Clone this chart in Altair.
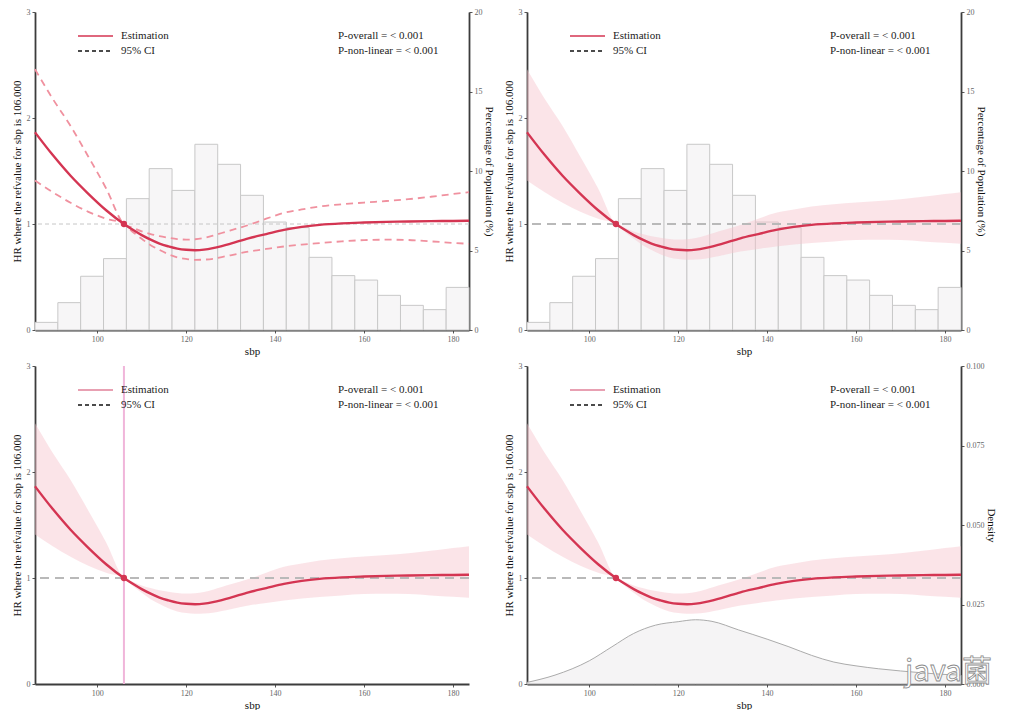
import altair as alt
import pandas as pd

# ---------------- data ----------------
sbp_grid = [86, 90, 94, 98, 102, 106, 108, 110, 112, 114, 116, 118, 120, 122, 124,
            126, 128, 130, 134, 138, 142, 146, 150, 155, 160, 165, 170, 175, 180, 183.6]
hr_estimate = [1.865, 1.65, 1.455, 1.285, 1.13, 1.0, 0.945, 0.895, 0.852, 0.815, 0.789,
               0.768, 0.757, 0.753, 0.758, 0.772, 0.792, 0.815, 0.865, 0.905, 0.945,
               0.973, 0.992, 1.006, 1.014, 1.02, 1.024, 1.027, 1.029, 1.031]
hr_upper = [2.46, 2.18, 1.925, 1.635, 1.335, 1.0, 0.965, 0.93, 0.905, 0.885, 0.87,
            0.858, 0.853, 0.856, 0.868, 0.89, 0.915, 0.94, 0.99, 1.05, 1.105,
            1.137, 1.165, 1.186, 1.202, 1.217, 1.234, 1.257, 1.283, 1.30]
hr_lower = [1.41, 1.30, 1.20, 1.115, 1.05, 1.0, 0.925, 0.86, 0.80, 0.755, 0.715,
            0.685, 0.67, 0.662, 0.664, 0.672, 0.688, 0.705, 0.74, 0.765, 0.788,
            0.806, 0.82, 0.836, 0.848, 0.852, 0.849, 0.836, 0.822, 0.813]

hist_bin_start = [86.0, 91.14, 96.27, 101.41, 106.55, 111.68, 116.82, 121.96, 127.09, 132.23,
                  137.37, 142.51, 147.64, 152.78, 157.92, 163.05, 168.19, 173.33, 178.46]
hist_bin_end = [91.14, 96.27, 101.41, 106.55, 111.68, 116.82, 121.96, 127.09, 132.23, 137.37,
                142.51, 147.64, 152.78, 157.92, 163.05, 168.19, 173.33, 178.46, 183.6]
hist_percent = [0.48, 1.72, 3.38, 4.49, 8.26, 10.15, 8.78, 11.68, 10.42, 8.47,
                6.79, 6.44, 4.57, 3.42, 3.14, 2.18, 1.55, 1.28, 2.68]

density_sbp = [86, 92.3, 100, 105.1, 110, 114.9, 120, 123.9, 127.6, 133.6,
               140, 144.9, 150, 155, 160, 165, 170, 175, 180, 183.6]
density_value = [0.0005, 0.0028, 0.0073, 0.0117, 0.0159, 0.0185, 0.0196, 0.0202, 0.0197, 0.017,
                 0.0141, 0.0117, 0.009, 0.0069, 0.0057, 0.0048, 0.0041, 0.0035, 0.003, 0.0028]

ref_sbp = [106.0]
ref_hr = [1.0]

legend_labels = ["Estimation", "95% CI"]
p_labels = ["P-overall = < 0.001", "P-non-linear = < 0.001"]
x_ticks = [100, 120, 140, 160, 180]
hr_ticks = [0, 1, 2, 3]
pct_ticks = [0, 5, 10, 15, 20]
dens_ticks = [0, 0.025, 0.05, 0.075, 0.1]
watermark = ["java菌"]

Y_TITLE = "HR where the refvalue for sbp is 106.000"
X_TITLE = "sbp"
PCT_TITLE = "Percentage of Population (%)"
DENS_TITLE = "Density"

# ---------------- styling ----------------
FONT = "Liberation Serif"
W, H = 434, 318
X_DOMAIN = [86, 183.6]
EST = "#d43552"
CI_LINE = "#f0919f"
BAND = "#f7c3cd"
REF_GRAY = "#b9b9b9"

curve_df = pd.DataFrame({"sbp": sbp_grid, "hr": hr_estimate, "lo": hr_lower, "hi": hr_upper})
hist_df = pd.DataFrame({"b0": hist_bin_start, "b1": hist_bin_end, "pct": hist_percent})
dens_df = pd.DataFrame({"sbp": density_sbp, "dens": density_value})
ref_df = pd.DataFrame({"sbp": ref_sbp, "hr": ref_hr})


def x_enc(field):
    return alt.X(f"{field}:Q",
                 scale=alt.Scale(domain=X_DOMAIN, nice=False, zero=False),
                 axis=alt.Axis(values=x_ticks, title=X_TITLE, orient="bottom"))


def y_hr(field):
    return alt.Y(f"{field}:Q",
                 scale=alt.Scale(domain=[0, 3], nice=False, zero=True),
                 axis=alt.Axis(values=hr_ticks, title=Y_TITLE, orient="left"))


def legend_and_text(est_color, est_width):
    one = pd.DataFrame({"k": [0]})
    layers = [
        alt.Chart(one).mark_rule(color=est_color, strokeWidth=est_width).encode(
            x=alt.value(43), x2=alt.value(78), y=alt.value(24)),
        alt.Chart(one).mark_rule(color="#111", strokeWidth=1.3, strokeDash=[4, 3]).encode(
            x=alt.value(43), x2=alt.value(78), y=alt.value(39)),
    ]
    for lab, yy in zip(legend_labels, [24, 39]):
        layers.append(alt.Chart(pd.DataFrame({"t": [lab]})).mark_text(
            align="left", baseline="middle", font=FONT, fontSize=11, color="#222").encode(
            x=alt.value(86), y=alt.value(yy), text="t:N"))
    for lab, yy in zip(p_labels, [24, 39]):
        layers.append(alt.Chart(pd.DataFrame({"t": [lab]})).mark_text(
            align="left", baseline="middle", font=FONT, fontSize=11, color="#222").encode(
            x=alt.value(303), y=alt.value(yy), text="t:N"))
    return layers


def hr_layer(style):
    base = alt.Chart(curve_df)
    layers = []
    if style in ("band", "vline", "density"):
        layers.append(base.mark_area(interpolate="monotone", color=BAND, opacity=0.45).encode(
            x=x_enc("sbp"), y=y_hr("lo"), y2="hi"))
    if style == "dashed":
        layers.append(alt.Chart(ref_df).mark_rule(color="#c6c6c6", strokeWidth=1,
                                                  strokeDash=[4, 3]).encode(y=y_hr("hr")))
        for f in ("hi", "lo"):
            layers.append(base.mark_line(interpolate="monotone", color=CI_LINE, strokeWidth=1.8,
                                         strokeDash=[7, 5]).encode(x=x_enc("sbp"), y=y_hr(f)))
    else:
        layers.append(alt.Chart(ref_df).mark_rule(color=REF_GRAY, strokeWidth=2.2,
                                                  strokeDash=[9, 6]).encode(y=y_hr("hr")))
    if style == "vline":
        layers.append(alt.Chart(ref_df).mark_rule(color="#f0b6da", strokeWidth=2).encode(
            x=x_enc("sbp")))
    layers.append(base.mark_line(interpolate="monotone", color=EST, strokeWidth=2.4).encode(
        x=x_enc("sbp"), y=y_hr("hr")))
    layers.append(alt.Chart(ref_df).mark_circle(size=40, color=EST, opacity=1).encode(
        x=x_enc("sbp"), y=y_hr("hr")))
    if style in ("vline", "density"):
        layers += legend_and_text("#e8a0b2", 2)
    else:
        layers += legend_and_text(EST, 1.3)
    return alt.layer(*layers)


def hist_layer():
    return alt.Chart(hist_df).mark_rect(fill="#f7f6f7", stroke="#c8c8c8", strokeWidth=1).encode(
        x=x_enc("b0"), x2="b1",
        y=alt.Y("pct:Q", scale=alt.Scale(domain=[0, 20], nice=False),
                axis=alt.Axis(values=pct_ticks, title=PCT_TITLE, orient="right")),
        y2=alt.datum(0))


def density_layer():
    return alt.Chart(dens_df).mark_area(interpolate="monotone", fill="#f5f4f5", stroke="#ababab",
                                        strokeWidth=1).encode(
        x=x_enc("sbp"),
        y=alt.Y("dens:Q", scale=alt.Scale(domain=[0, 0.1], nice=False),
                axis=alt.Axis(values=dens_ticks, format=".3f", title=DENS_TITLE, orient="right")))


p1 = alt.layer(hist_layer(), hr_layer("dashed")).resolve_scale(y="independent").properties(width=W, height=H)
p2 = alt.layer(hist_layer(), hr_layer("band")).resolve_scale(y="independent").properties(width=W, height=H)
p3 = hr_layer("vline").properties(width=W, height=H)
wm = alt.Chart(pd.DataFrame({"t": watermark})).mark_text(
    align="left", baseline="middle", font="Noto Sans CJK SC", fontSize=30, color="#ffffff",
    stroke="#8a8a8a", strokeWidth=0.8).encode(x=alt.value(378), y=alt.value(306), text="t:N")
p4 = alt.layer(density_layer(), hr_layer("density"), wm).resolve_scale(y="independent").properties(width=W, height=H)

chart = alt.concat(p1, p2, p3, p4, columns=2, spacing={"row": 36, "column": 58},
                   bounds="flush").properties(
    padding={"left": 3, "top": 0, "right": 0, "bottom": 0}
).configure_axis(
    domainColor="#3c3c3c", domainWidth=1.8, tickColor="#555555", tickSize=3, tickWidth=1,
    labelFont=FONT, labelFontSize=8, labelColor="#666666", labelPadding=2,
    titleFont=FONT, titleFontSize=11, titleFontWeight="normal", titleColor="#111111", grid=False
).configure_axisLeft(titlePadding=4).configure_axisRight(titlePadding=1).configure_axisBottom(
    titlePadding=2
).configure_view(stroke=None)

chart.save("out.html", embed_options={"renderer": "svg", "actions": False})
